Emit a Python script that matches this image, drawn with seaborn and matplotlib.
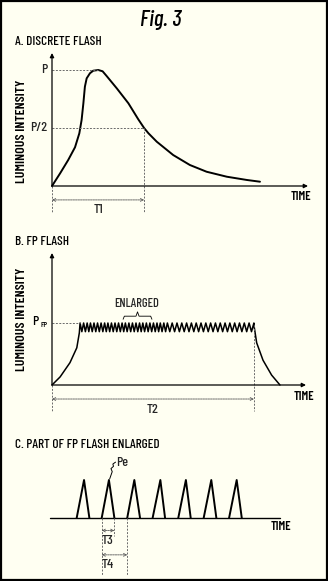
import numpy as np
import pandas as pd
import matplotlib
matplotlib.use("Agg")
import matplotlib.pyplot as plt
import seaborn as sns
from matplotlib.patches import Rectangle

# ---------------- data ----------------
# A. discrete flash (intensity relative to peak P = 1)
a_time = [0, 3.2, 6.4, 9.1, 10.8, 11.7, 12.4, 13.0, 13.7, 15.0, 16.3, 18.3,
          20.0, 21.6, 25.6, 30.2, 34.1, 36.4, 38.1, 41.4, 47.9, 54.5, 61.1,
          69.1, 77.0, 82.2]
a_intensity = [0, .109, .224, .334, .454, .569, .713, .856, .928, .972, .994,
               1.0, .989, .948, .842, .713, .575, .500, .455, .382, .267, .181,
               .123, .080, .052, .037]
a_peak_time = 18.3
a_T1 = 36.4

# B. FP flash (intensity relative to P_FP = 1)
b_rise_time = [0, 3.2, 7.1, 9.8, 10.8, 11.1]
b_rise_intensity = [0, .13, .36, .60, .84, 1.0]
b_top_times = [11.1, 12.5, 13.9, 15.2, 16.6, 18.0, 19.4, 20.8, 22.1, 23.5,
               24.9, 26.3, 27.7, 29.0, 30.4, 31.8, 33.2, 34.6, 35.9, 37.3,
               38.7, 40.1, 41.5, 42.8, 44.2, 45.6, 47.5, 49.4, 51.3, 53.2,
               55.1, 57.0, 58.9, 60.8, 62.7, 64.6, 66.5, 68.4, 70.3, 72.2,
               74.1, 76.0, 77.9, 79.8]
b_top_level = 1.0
b_trough_level = 0.86
b_fall_time = [79.8, 80.9, 83.4, 86.8, 90.1]
b_fall_intensity = [.97, .68, .40, .16, 0]
b_T2 = 79.8
b_enlarged_span = [28.1, 39.5]

# C. part of FP flash enlarged
c_pulse_start = [2.10, 4.07, 6.08, 8.08, 10.10, 12.10, 14.10]
c_pulse_peak = [2.68, 4.64, 6.64, 8.69, 10.70, 12.70, 14.70]
c_pulse_end = [3.10, 5.07, 7.09, 9.06, 11.08, 13.10, 15.10]
c_pulse_height = [1, 1, 1, 1, 1, 1, 1]
c_time_end = 18.1

# ---------------- styling ----------------
W, H = 328, 581
BG = "#fffff2"
sns.set_theme(style="white", rc={"figure.facecolor": BG, "axes.facecolor": "none"})
FONT = ["Barlow Condensed", "DejaVu Sans"]
plt.rcParams["font.family"] = FONT
plt.rcParams["font.weight"] = 500

fig = plt.figure(figsize=(W / 100, H / 100), dpi=100)
fig.patch.set_facecolor(BG)
fig.add_artist(Rectangle((1 / W, 1 / H), 1 - 2 / W, 1 - 2 / H, transform=fig.transFigure,
                         fill=False, edgecolor="black", lw=1.6))

DASH = dict(color="#6a6a6a", lw=0.7, ls=(0, (2, 1.5)))


def ftext(x, y, s, **kw):
    kw.setdefault("ha", "center")
    kw.setdefault("va", "center")
    kw.setdefault("color", "black")
    fig.text(x / W, 1 - y / H, s, **kw)


def make_axes(x0, x1, ytop, ybot, ox, oy, sx, sy):
    ax = fig.add_axes([x0 / W, 1 - ybot / H, (x1 - x0) / W, (ybot - ytop) / H])
    ax.set_xlim((x0 - ox) / sx, (x1 - ox) / sx)
    ax.set_ylim((oy - ybot) / sy, (oy - ytop) / sy)
    ax.axis("off")
    return ax


def axis_arrows(ax):
    for xy in [(1, 0), (0, 1)]:
        ax.annotate("", xy=xy, xytext=(0, 0), xycoords="axes fraction",
                    arrowprops=dict(arrowstyle="-|>", lw=0.9, color="black",
                                    mutation_scale=6, shrinkA=0, shrinkB=0))


def span_arrow(ax, x0, x1, y):
    ax.annotate("", xy=(x1, y), xytext=(x0, y), xycoords="data",
                arrowprops=dict(arrowstyle="<->", lw=0.6, color="#555555",
                                mutation_scale=5, shrinkA=0, shrinkB=0,
                                linestyle=(0, (2, 1))), annotation_clip=False)


def noclip(ax):
    for ln in ax.lines:
        ln.set_clip_on(False)


LBL = dict(fontsize=10, fontweight=500)
AXL = dict(fontsize=9, fontweight=600)
YAX = dict(fontsize=10, fontweight=600)
TTL = dict(fontsize=9.5, fontweight=500)

# ---------------- title ----------------
ftext(161, 20, "Fig. 3", fontsize=16.5, style="italic", fontweight=500)

# ---------------- panel A ----------------
axA = make_axes(52, 308, 53, 186, 52, 186, 2.53, 116)
axis_arrows(axA)
dfA = pd.DataFrame({"time": a_time, "intensity": a_intensity})
sns.lineplot(data=dfA, x="time", y="intensity", ax=axA, color="black", lw=1.4,
             sort=False, estimator=None)
half = max(a_intensity) / 2
axA.plot([0, a_peak_time], [1, 1], **DASH)
axA.plot([0, a_T1], [half, half], **DASH)
axA.plot([a_T1, a_T1], [half, -0.235], **DASH)
axA.plot([0, 0], [0, -0.235], **DASH)
span_arrow(axA, 0, a_T1, -0.12)
axA.text(a_T1 / 2, -0.21, "T1", ha="center", va="center", **LBL)
axA.text(-1.8, 1, "P", ha="right", va="center", **LBL)
axA.text(-1.8, half, "P/2", ha="right", va="center", **LBL)
noclip(axA)
ftext(15, 42, "A. DISCRETE FLASH", ha="left", **TTL)
ftext(22, 131, "LUMINOUS INTENSITY", rotation=90, **YAX)
ftext(301, 197, "TIME", **AXL)

# ---------------- panel B ----------------
axB = make_axes(52, 306, 253, 385, 52, 385, 2.53, 62)
axis_arrows(axB)
troughs = [(a + b) / 2 for a, b in zip(b_top_times[:-1], b_top_times[1:])]
zz_t, zz_i = [], []
for k, t in enumerate(b_top_times):
    zz_t.append(t)
    zz_i.append(b_top_level)
    if k < len(troughs):
        zz_t.append(troughs[k])
        zz_i.append(b_trough_level)
dfB = pd.DataFrame({"time": b_rise_time + zz_t[1:] + b_fall_time,
                    "intensity": b_rise_intensity + zz_i[1:] + b_fall_intensity})
sns.lineplot(data=dfB, x="time", y="intensity", ax=axB, color="black", lw=1.1,
             sort=False, estimator=None)
axB.plot([0, b_rise_time[-1]], [1, 1], **DASH)
axB.plot([b_T2, b_T2], [0.97, -0.42], **DASH)
axB.plot([0, 0], [0, -0.42], **DASH)
span_arrow(axB, 0, b_T2, -0.226)
axB.text(b_T2 / 2, -0.40, "T2", ha="center", va="center", **LBL)
x0, x1 = b_enlarged_span
xm = (x0 + x1) / 2
axB.plot([x0, x0 + 0.5, xm - 0.6, xm, xm + 0.6, x1 - 0.5, x1],
         [1.06, 1.11, 1.11, 1.18, 1.11, 1.11, 1.06], color="black", lw=0.6)
axB.text(xm - 0.5, 1.30, "ENLARGED", ha="center", va="center", fontsize=9, fontweight=500)
noclip(axB)
ftext(35, 322, "P", **LBL)
ftext(44, 325, "FP", fontsize=6, fontweight=500)
ftext(15, 242, "B. FP FLASH", ha="left", **TTL)
ftext(22, 319, "LUMINOUS INTENSITY", rotation=90, **YAX)
ftext(304, 397, "TIME", **AXL)

# ---------------- panel C ----------------
axC = make_axes(50, 280, 455, 578, 50, 518, 12.7, 38)
rows = []
for p, (s, pk, e, h) in enumerate(zip(c_pulse_start, c_pulse_peak, c_pulse_end, c_pulse_height)):
    rows += [(p, s, 0), (p, pk, h), (p, e, 0)]
dfC = pd.DataFrame(rows, columns=["pulse", "time", "intensity"])
axC.plot([0, c_time_end], [0, 0], color="black", lw=1.0)
sns.lineplot(data=dfC, x="time", y="intensity", units="pulse", estimator=None,
             sort=False, ax=axC, color="black", lw=1.4)
s1, e1, s2 = c_pulse_start[1], c_pulse_end[1], c_pulse_start[2]
axC.plot([s1, s1], [0, -1.5], **DASH)
axC.plot([e1, e1], [0, -0.47], **DASH)
axC.plot([s2, s2], [0, -1.5], **DASH)
span_arrow(axC, s1, e1, -0.33)
span_arrow(axC, s1, s2, -0.97)
axC.text((s1 + e1) / 2 - 0.05, -0.60, "T3", ha="center", va="center", **LBL)
axC.text((s1 + e1) / 2 - 0.05, -1.24, "T4", ha="center", va="center", **LBL)
pk = c_pulse_peak[1]
axC.plot([pk + 0.06, pk + 0.26, pk + 0.16, pk + 0.36, pk + 0.31, pk + 0.52],
         [1.03, 1.22, 1.30, 1.36, 1.42, 1.47], color="black", lw=0.7)
axC.text(pk + 0.55, 1.45, "Pe", ha="left", va="center", **LBL)
noclip(axC)
ftext(15, 445, "C. PART OF FP FLASH ENLARGED", ha="left", **TTL)
ftext(281, 527, "TIME", **AXL)

fig.savefig("out.png", dpi=100, facecolor=BG)
